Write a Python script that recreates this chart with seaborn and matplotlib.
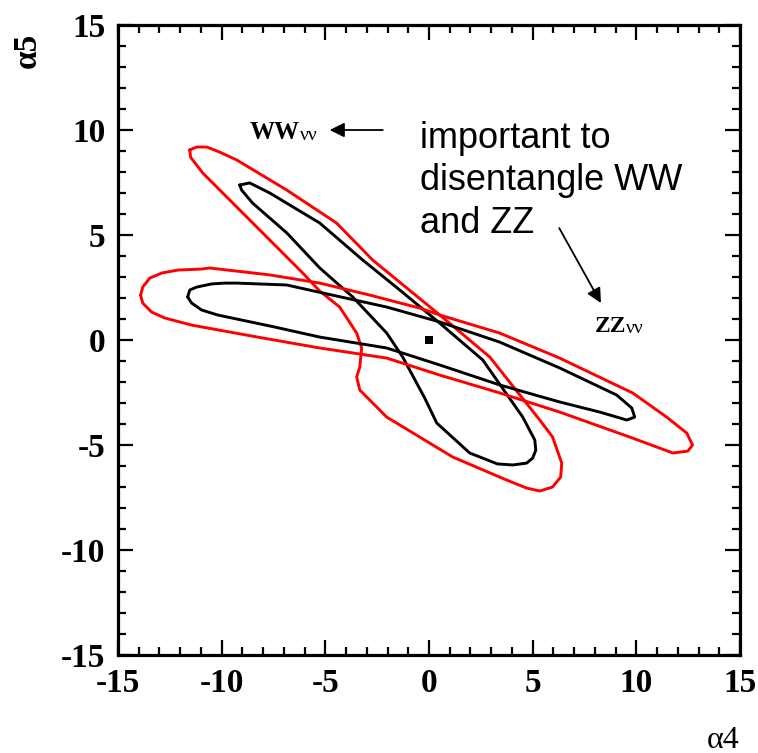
import numpy as np
import pandas as pd
import matplotlib
matplotlib.use("Agg")
import matplotlib.pyplot as plt
from matplotlib.ticker import MultipleLocator
import seaborn as sns

# Contour outlines in the (alpha4, alpha5) plane, listed clockwise.
ww_outer_x = [-11.54, -11.21, -10.72, -10.10, -9.27, -6.86, -4.46, -2.72, 0.52, 2.93, 5.34,
              5.96, 6.40, 6.35, 5.96, 5.34, 4.71, 3.75, 1.14, -2.04, -3.34, -3.49, -3.34,
              -3.25, -3.49, -4.31, -5.27, -6.09, -7.68, -9.27, -10.91, -11.40, -11.50]
ww_outer_y = [9.05, 9.19, 9.19, 8.95, 8.57, 7.14, 5.57, 3.81, 1.19, -0.81, -3.81,
              -4.62, -5.86, -6.52, -7.00, -7.19, -7.05, -6.67, -5.57, -3.67, -2.38, -1.76, -1.29,
              -0.38, 0.33, 1.57, 2.33, 3.19, 4.76, 6.33, 7.95, 8.57, 8.71]

ww_inner_x = [-9.13, -8.65, -7.68, -5.27, -3.20, -1.41, 0.51, 2.59, 4.52, 5.10, 5.15, 5.00,
              4.71, 4.04, 3.30, 1.96, 0.37, -0.21, -1.27, -2.04, -3.68, -5.27, -6.86, -8.51,
              -9.04]
ww_inner_y = [7.38, 7.48, 7.00, 5.57, 3.81, 2.38, 0.81, -0.95, -3.67, -4.76, -5.24, -5.62,
              -5.86, -5.95, -5.90, -5.38, -3.95, -2.76, -0.81, 0.33, 2.05, 3.43, 5.10, 6.52,
              7.14]

zz_outer_x = [-13.91, -13.81, -13.47, -12.89, -12.12, -10.97, -10.58, -7.68, -5.27, -2.86,
              -0.45, 0.52, 3.41, 6.30, 9.82, 11.46, 12.43, 12.71, 12.48, 11.76, 9.82, 6.30,
              3.41, 0.52, -2.04, -5.27, -8.27, -11.45, -12.75, -13.38, -13.81]
zz_outer_y = [2.14, 2.52, 2.95, 3.19, 3.33, 3.38, 3.43, 3.10, 2.71, 2.14,
              1.52, 1.19, 0.33, -0.86, -2.52, -3.67, -4.43, -5.00, -5.29, -5.38, -4.67, -3.43,
              -2.52, -1.67, -0.86, -0.38, 0.14, 0.71, 1.05, 1.33, 1.76]

zz_inner_x = [-11.64, -11.54, -11.21, -10.49, -9.86, -9.27, -6.86, -5.13, -2.04, 0.52, 3.41,
              6.30, 9.05, 9.78, 9.92, 9.54, 8.23, 6.30, 3.41, 0.52, -2.04, -5.27, -7.45,
              -10.19, -10.97, -11.45]
zz_inner_y = [2.05, 2.38, 2.52, 2.67, 2.71, 2.71, 2.62, 2.24, 1.57, 0.86, -0.10,
              -1.33, -2.62, -3.24, -3.67, -3.81, -3.43, -2.95, -2.14, -1.19, -0.38, 0.14, 0.62,
              1.19, 1.43, 1.76]

best_fit_x = [0.0]
best_fit_y = [0.0]

ticks = [-15, -10, -5, 0, 5, 10, 15]
tick_labels = ["-15", "-10", "-5", "0", "5", "10", "15"]

sns.set_theme(style="ticks")
plt.rcParams["font.family"] = ["Liberation Serif", "DejaVu Serif"]
plt.rcParams["text.color"] = "black"
plt.rcParams["xtick.color"] = "black"
plt.rcParams["ytick.color"] = "black"
plt.rcParams["xtick.labelcolor"] = "black"
plt.rcParams["ytick.labelcolor"] = "black"

fig = plt.figure(figsize=(7.58, 7.53), dpi=100)
ax = fig.add_axes([0.1557, 0.1301, 0.8206, 0.8367])

curves = [
    (ww_outer_x, ww_outer_y, "#ff0000"),
    (ww_inner_x, ww_inner_y, "black"),
    (zz_outer_x, zz_outer_y, "#ff0000"),
    (zz_inner_x, zz_inner_y, "black"),
]
for cx, cy, col in curves:
    df = pd.DataFrame({"a4": cx + cx[:1], "a5": cy + cy[:1]})
    sns.lineplot(data=df, x="a4", y="a5", sort=False, estimator=None, color=col,
                 lw=2.1, ax=ax, solid_joinstyle="round", solid_capstyle="round")

sns.scatterplot(x=best_fit_x, y=best_fit_y, marker="s", s=40, color="black",
                edgecolor="none", ax=ax, zorder=5)

ax.set_xlim(-15, 15)
ax.set_ylim(-15, 15)
ax.set_xticks(ticks)
ax.set_yticks(ticks)
ax.set_xticklabels(tick_labels)
ax.set_yticklabels(tick_labels)
ax.xaxis.set_minor_locator(MultipleLocator(1))
ax.yaxis.set_minor_locator(MultipleLocator(1))
ax.tick_params(which="both", direction="in", top=True, right=True, width=1.6, color="black")
ax.tick_params(which="major", length=11, labelsize=24, pad=9)
ax.tick_params(which="minor", length=6)
for lab in ax.get_xticklabels() + ax.get_yticklabels():
    lab.set_fontweight("bold")
for sp in ax.spines.values():
    sp.set_linewidth(2.3)
    sp.set_color("black")
ax.set_xlabel("")
ax.set_ylabel("")

fig.text(27 / 758, 1 - 50 / 753, "α5", rotation=90, ha="center", va="center",
         fontsize=24, fontweight="bold")
fig.text(723 / 758, 1 - 740 / 753, "α4", ha="center", va="center", fontsize=23)

# Process labels with their pointers
ww = ax.text(-8.65, 9.55, "WW", ha="left", va="baseline", fontsize=18, fontweight="bold")
ax.annotate("νν", xy=(1, 0), xycoords=ww, xytext=(0, 0), textcoords="offset points",
            ha="left", va="bottom", fontsize=14)
ax.annotate("", xy=(-4.79, 10.0), xytext=(-2.23, 10.0),
            arrowprops=dict(arrowstyle="-|>", color="black", lw=1.3,
                            mutation_scale=22, shrinkA=0, shrinkB=0))

zz = ax.text(7.99, 0.36, "ZZ", ha="left", va="baseline", fontsize=17, fontweight="bold")
ax.annotate("νν", xy=(1, 0), xycoords=zz, xytext=(0, 0), textcoords="offset points",
            ha="left", va="bottom", fontsize=14)
ax.annotate("", xy=(8.29, 1.76), xytext=(6.28, 5.33),
            arrowprops=dict(arrowstyle="-|>", color="black", lw=1.3,
                            mutation_scale=22, shrinkA=0, shrinkB=0))

ax.text(-0.45, 5.10, "important to\ndisentangle WW\nand ZZ", ha="left", va="baseline",
        fontsize=26, family=["Liberation Sans", "DejaVu Sans"], linespacing=1.28)

fig.savefig("out.png", dpi=100, facecolor="white")
